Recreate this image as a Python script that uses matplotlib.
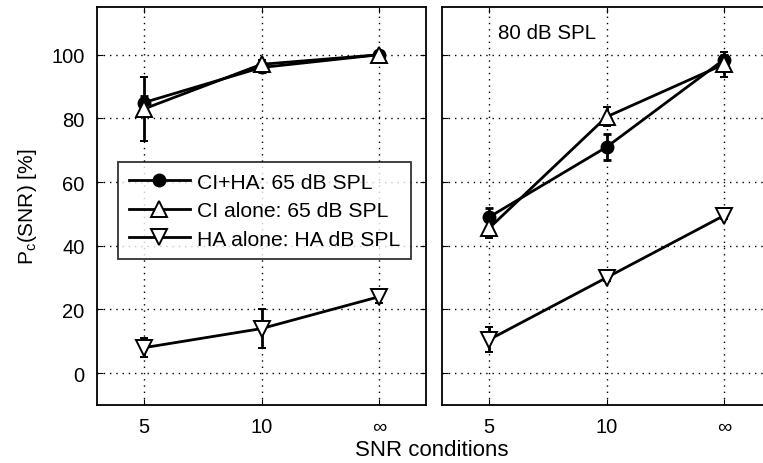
import numpy as np
import matplotlib.pyplot as plt

plt.rcParams['font.family'] = ['Liberation Sans', 'DejaVu Sans']
plt.rcParams['mathtext.fontset'] = 'custom'
plt.rcParams['mathtext.rm'] = 'Liberation Sans'

# SNR conditions (5 dB, 10 dB, quiet)
snr_labels = ['5', '10', '\u221e']
snr_pos = [1, 2, 3]

# 65 dB SPL panel
ci_ha_65 = [85, 96, 100]
ci_ha_65_err = [2, 1.5, 1]
ci_65 = [83, 97, 100]
ci_65_err = [10, 1.5, 1]
ha_65 = [8, 14, 24]
ha_65_err = [3, 6, 2]

# 80 dB SPL panel
ci_ha_80 = [49, 71, 98.5]
ci_ha_80_err = [3, 4, 1.5]
ci_80 = [45.5, 80.5, 97]
ci_80_err = [3, 3, 4]
ha_80 = [10.5, 30, 49.5]
ha_80_err = [4, 1, 1]

fig = plt.figure(figsize=(7.63, 4.64), dpi=100)
ax1 = fig.add_axes([97 / 763, 58 / 464, 329 / 763, 398 / 464])
ax2 = fig.add_axes([442 / 763, 58 / 464, 329 / 763, 398 / 464])


def draw_panel(ax, ci_ha, ci_ha_err, ci, ci_err, ha, ha_err):
    lw = 2.0
    h1 = ax.errorbar(snr_pos, ci_ha, yerr=ci_ha_err, color='black', lw=lw,
                     marker='o', ms=9, mfc='black', mec='black', capsize=3,
                     elinewidth=lw, capthick=lw)
    h2 = ax.errorbar(snr_pos, ci, yerr=ci_err, color='black', lw=lw,
                     marker='^', ms=11, mfc='white', mec='black', mew=1.4,
                     capsize=3, elinewidth=lw, capthick=lw)
    h3 = ax.errorbar(snr_pos, ha, yerr=ha_err, color='black', lw=lw,
                     marker='v', ms=11, mfc='white', mec='black', mew=1.4,
                     capsize=3, elinewidth=lw, capthick=lw)
    ax.set_xlim(0.6, 3.4)
    ax.set_ylim(-10, 115)
    ax.set_xticks(snr_pos)
    ax.set_xticklabels(snr_labels)
    ax.set_yticks(np.arange(0, 101, 20))
    ax.grid(True, color='black', linestyle=(0, (1, 3.5)), linewidth=1.0)
    ax.tick_params(direction='in', length=4, labelsize=14.5, top=True,
                   right=True, pad=9)
    for sp in ax.spines.values():
        sp.set_linewidth(1.3)
    return [h1.lines[0], h2.lines[0], h3.lines[0]]


handles = draw_panel(ax1, ci_ha_65, ci_ha_65_err, ci_65, ci_65_err,
                     ha_65, ha_65_err)
draw_panel(ax2, ci_ha_80, ci_ha_80_err, ci_80, ci_80_err, ha_80, ha_80_err)
ax2.set_yticklabels([])

ax1.set_ylabel('P$_\\mathregular{c}$(SNR) [%]', fontsize=15, labelpad=9)
ax2.text(1.08, 107, '80 dB SPL', fontsize=14.8, va='center', ha='left')

leg = ax1.legend(handles,
                 ['CI+HA: 65 dB SPL', 'CI alone: 65 dB SPL',
                  'HA alone: HA dB SPL'],
                 loc='upper left', bbox_to_anchor=(0.064, 0.61),
                 fontsize=15.2, frameon=True, fancybox=False,
                 edgecolor='black', handlelength=2.9, handletextpad=0.35,
                 borderpad=0.5, labelspacing=0.45, borderaxespad=0)
leg.get_frame().set_linewidth(1.3)

fig.text(432 / 763, 1 - 451 / 464, 'SNR conditions', fontsize=16,
         ha='center', va='center')

fig.savefig('out.png', dpi=100)
